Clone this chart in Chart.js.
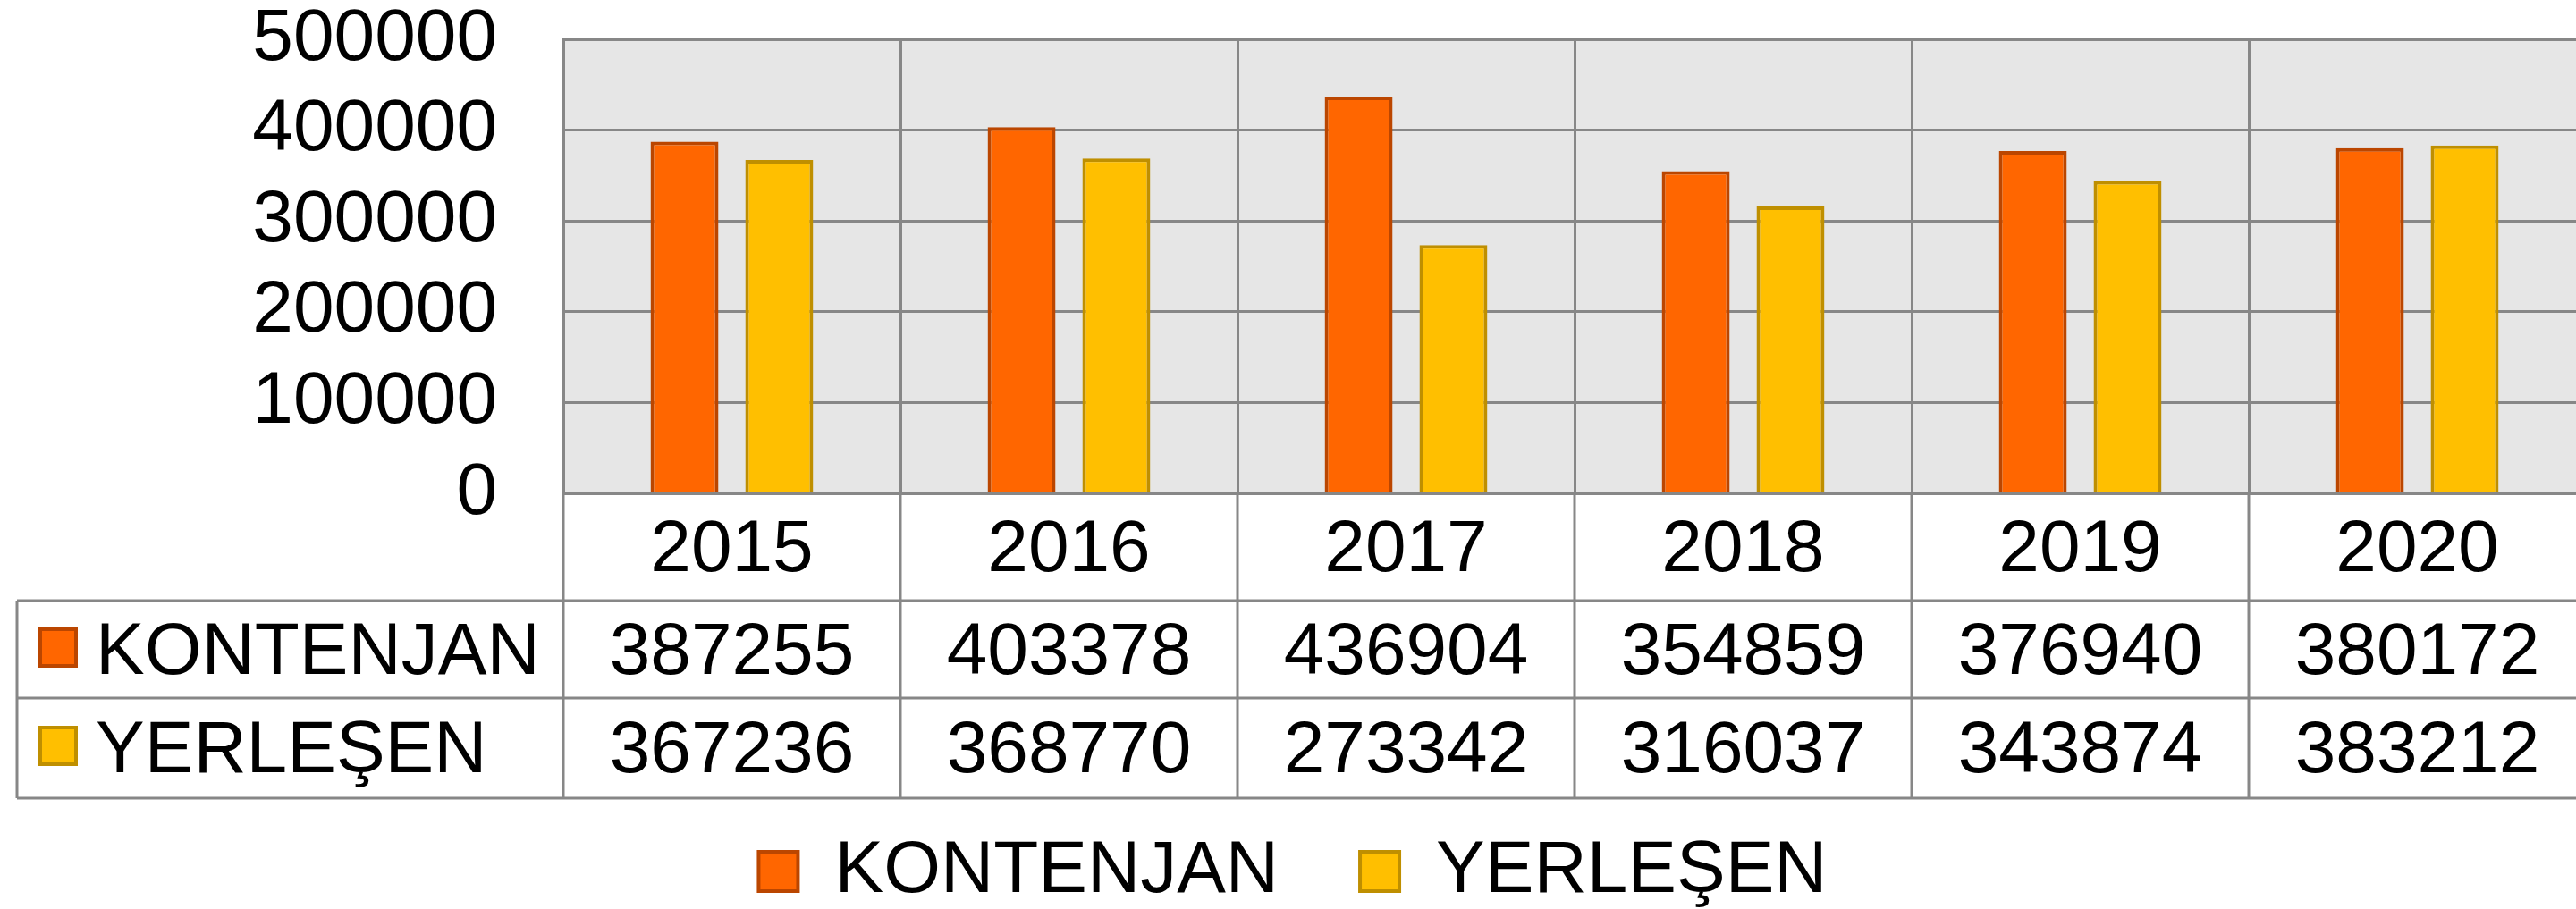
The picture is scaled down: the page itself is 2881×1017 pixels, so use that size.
<!DOCTYPE html>
<html>
<head>
<meta charset="utf-8">
<script src="https://cdn.jsdelivr.net/npm/chart.js@4"></script>
<style>
  html, body { margin: 0; padding: 0; background: #ffffff; overflow: hidden; }
  canvas { display: block; }
</style>
</head>
<body>
<canvas id="chart" width="2900" height="1030"></canvas>
<script>
// =====================
// DATA
// =====================
const years = ["2015", "2016", "2017", "2018", "2019", "2020"];
const seriesNames = ["KONTENJAN", "YERLEŞEN"];
const kontenjan = [387255, 403378, 436904, 354859, 376940, 380172];
const yerlesen = [367236, 368770, 273342, 316037, 343874, 383212];
const yTicks = [0, 100000, 200000, 300000, 400000, 500000];

// =====================
// STYLE
// =====================
const FONT = "'Liberation Sans', Arial, sans-serif";
const FONT_SIZE = 82;
const GRID = "#878787";
const PLOT_BG = "#e6e6e6";
const fills = ["#ff6600", "#ffbf00"];
const borders = ["#bb4600", "#bf8f00"];

Chart.defaults.font.family = FONT;
Chart.defaults.color = "#000000";

// plot background
const plotBackground = {
  id: "plotBackground",
  beforeDraw(chart) {
    const { ctx, chartArea: a } = chart;
    ctx.save();
    ctx.fillStyle = PLOT_BG;
    ctx.fillRect(a.left, a.top, a.right - a.left, a.bottom - a.top);
    ctx.restore();
  }
};

// data table under the x axis
const dataTable = {
  id: "dataTable",
  afterDraw(chart) {
    const { ctx, chartArea: a, scales: { x } } = chart;
    const colW = x.width / years.length;
    const tableLeft = 19;
    const lines = [672, 781, 893];
    const baselines = [754, 864];

    ctx.save();
    ctx.strokeStyle = GRID;
    ctx.lineWidth = 3;
    ctx.beginPath();
    lines.forEach(y => { ctx.moveTo(tableLeft, y); ctx.lineTo(a.right, y); });
    ctx.moveTo(tableLeft, lines[0]); ctx.lineTo(tableLeft, lines[2]);
    for (let i = 0; i <= years.length; i++) {
      const xx = x.getPixelForValue(0) - colW / 2 + i * colW;
      ctx.moveTo(xx, a.bottom); ctx.lineTo(xx, lines[2]);
    }
    ctx.stroke();

    ctx.font = FONT_SIZE + "px " + FONT;
    ctx.textBaseline = "alphabetic";
    chart.data.datasets.forEach((ds, r) => {
      const by = baselines[r];
      // swatch
      const sy = by - 52;
      ctx.fillStyle = ds.backgroundColor;
      ctx.fillRect(43, sy, 44, 45);
      ctx.strokeStyle = ds.borderColor;
      ctx.lineWidth = 4;
      ctx.strokeRect(45, sy + 2, 40, 41);
      // name
      ctx.fillStyle = "#000000";
      ctx.textAlign = "left";
      ctx.fillText(ds.label, 107, by);
      // values
      ctx.textAlign = "center";
      ds.data.forEach((v, i) => {
        ctx.fillText(String(v), x.getPixelForValue(i), by);
      });
    });
    ctx.restore();
  }
};

// =====================
// CHART
// =====================
new Chart(document.getElementById("chart"), {
  type: "bar",
  data: {
    labels: years,
    datasets: [
      {
        label: seriesNames[0],
        data: kontenjan,
        backgroundColor: fills[0],
        borderColor: borders[0],
        borderWidth: 4,
        categoryPercentage: 0.562,
        barPercentage: 0.717
      },
      {
        label: seriesNames[1],
        data: yerlesen,
        backgroundColor: fills[1],
        borderColor: borders[1],
        borderWidth: 4,
        categoryPercentage: 0.562,
        barPercentage: 0.717
      }
    ]
  },
  options: {
    responsive: false,
    animation: false,
    devicePixelRatio: 1,
    layout: { padding: { top: 44, right: 8, bottom: 4, left: 0 } },
    plugins: {
      tooltip: { enabled: false },
      legend: {
        position: "bottom",
        labels: {
          font: { size: FONT_SIZE, lineHeight: 1 },
          boxWidth: 44,
          boxHeight: 44,
          padding: 91,
          color: "#000000"
        }
      }
    },
    scales: {
      x: {
        afterFit: s => { s.height = 291; },
        grid: { color: GRID, lineWidth: 3, drawTicks: false, offset: true },
        border: { color: GRID, width: 3 },
        ticks: {
          font: { size: FONT_SIZE, lineHeight: 1 },
          padding: 23,
          color: "#000000",
          maxRotation: 0
        }
      },
      y: {
        min: yTicks[0],
        max: yTicks[yTicks.length - 1],
        afterFit: s => { s.width = 630; },
        afterBuildTicks: s => { s.ticks = yTicks.map(v => ({ value: v })); },
        grid: {
          color: GRID,
          lineWidth: 3,
          drawTicks: true,
          tickLength: 74,
          tickColor: "rgba(0,0,0,0)"
        },
        border: { color: GRID, width: 3 },
        ticks: {
          font: { size: FONT_SIZE, lineHeight: 1 },
          padding: 0,
          color: "#000000",
          callback: v => String(v)
        }
      }
    }
  },
  plugins: [plotBackground, dataTable]
});
</script>
</body>
</html>
